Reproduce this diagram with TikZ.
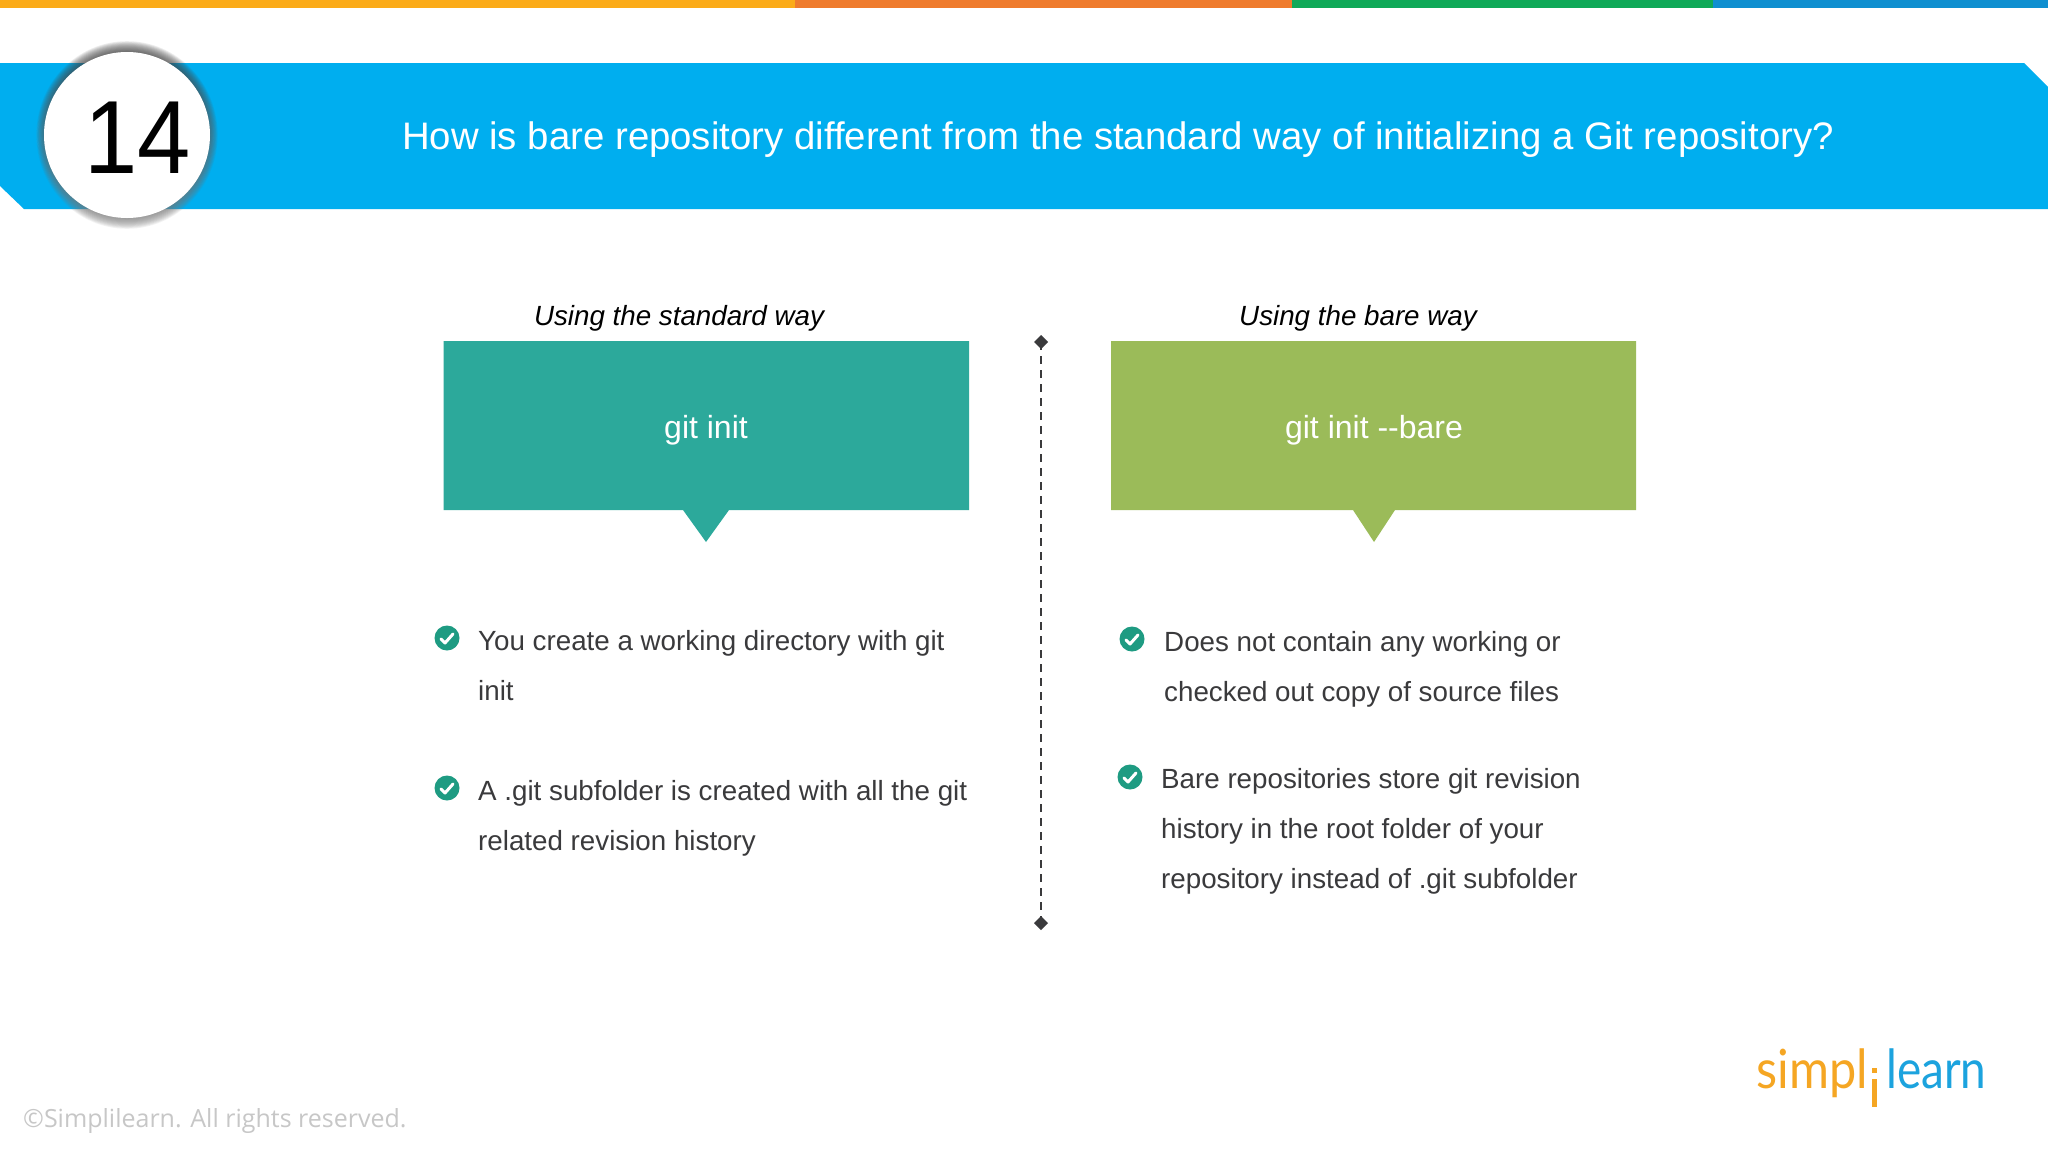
\documentclass[tikz,border=0pt]{standalone}
\usepackage{fontspec}
\setmainfont{Liberation Sans}
\newfontfamily\logofont{Lato}
\newfontfamily\copyfont{Open Sans}
\usetikzlibrary{arrows.meta}
\definecolor{barA}{HTML}{FBAB18}
\definecolor{barB}{HTML}{EF7B2D}
\definecolor{barC}{HTML}{0FA958}
\definecolor{barD}{HTML}{0F8FD0}
\definecolor{banner}{HTML}{00AEEF}
\definecolor{shade}{HTML}{0F6A9C}
\definecolor{tealbox}{HTML}{2CA99B}
\definecolor{greenbox}{HTML}{9BBB59}
\definecolor{bodytext}{HTML}{3A3A3C}
\definecolor{checkc}{HTML}{1E9B82}
\definecolor{logoO}{HTML}{F5A623}
\definecolor{logoB}{HTML}{1CA3DE}
\tikzset{
  x=1pt,y=-1pt,
  bodyline/.style={anchor=base west,inner sep=0pt,text=bodytext,font=\fontsize{27.75}{28}\selectfont},
  caption/.style={anchor=base,inner sep=0pt,font=\fontsize{27.75}{28}\selectfont\itshape,text=black},
  boxlabel/.style={inner sep=0pt,text=white,font=\fontsize{32}{32}\selectfont},
  checkdot/.style={circle,fill=checkc,minimum size=25pt,inner sep=0pt},
  tick/.style={draw=white,line width=3pt,line cap=round,line join=round},
}
\newcommand{\chk}[2]{%
  \node[checkdot] (#1) at #2 {};
  \draw[tick] ([shift={(-6,1)}]#1.center) -- ([shift={(-2,5)}]#1.center) -- ([shift={(6,-4)}]#1.center);
}
\begin{document}
\begin{tikzpicture}
\useasboundingbox (0,0) rectangle (2048,1152);
\fill[white] (0,0) rectangle (2048,1152);
% top bars
\fill[barA] (0,0) rectangle (795,8);
\fill[barB] (795,0) rectangle (1292,8);
\fill[barC] (1292,0) rectangle (1713,8);
\fill[barD] (1713,0) rectangle (2048,8);
% banner
\fill[banner] (0,63) -- (2024,63) -- (2048,87) -- (2048,209) -- (24,209) -- (0,186) -- cycle;
% circle shadow
\foreach \i in {1,...,12}{
  \fill[shade,opacity=.05] (127,135) ellipse [x radius={81+\i*.8},y radius={83+\i*.9}];
}
\node[circle,fill=white,minimum size=166pt,inner sep=0pt] (num) at (127,135) {};
\node[inner sep=0pt,anchor=base,xscale=.92,font=\fontsize{104}{104}\selectfont,text=black] (numtext) at (138,173) {14};
\node[inner sep=0pt,anchor=base,text=white,font=\fontsize{38.35}{38}\selectfont] (title) at (1118,149) {How is bare repository different from the standard way of initializing a Git repository?};
% captions
\node[caption] (capA) at (679,325) {Using the standard way};
\node[caption] (capB) at (1358,325) {Using the bare way};
% boxes
\fill[tealbox] (443.5,341) -- (969,341) -- (969,510) -- (729,510) -- (706,542) -- (683,510) -- (443.5,510) -- cycle;
\node[boxlabel] (boxA) at (706,430) {git init};
\fill[greenbox] (1111,341) -- (1636,341) -- (1636,510) -- (1395,510) -- (1374,542) -- (1353,510) -- (1111,510) -- cycle;
\node[boxlabel] (boxB) at (1374,430) {git init -{}-bare};
% divider
\coordinate (divtop) at (1041,342);
\coordinate (divbot) at (1041,923);
\draw[bodytext,line width=2pt,dash pattern=on 8pt off 6pt] (divtop) -- (divbot);
\fill[bodytext] (1041,335) -- (1048,342) -- (1041,349) -- (1034,342) -- cycle;
\fill[bodytext] (1041,916) -- (1048,923) -- (1041,930) -- (1034,923) -- cycle;
% left bullets
\chk{cA}{(447,638)}
\node[bodyline] (a1) at (478,650) {You create a working directory with git};
\node[bodyline] (a2) at (478,700) {init};
\chk{cB}{(447,788)}
\node[bodyline] (b1) at (478,800) {A .git subfolder is created with all the git};
\node[bodyline] (b2) at (478,850) {related revision history};
% right bullets
\chk{cC}{(1132,639)}
\node[bodyline] (c1) at (1164,651) {Does not contain any working or};
\node[bodyline] (c2) at (1164,701) {checked out copy of source files};
\chk{cD}{(1130,777)}
\node[bodyline] (d1) at (1161,788) {Bare repositories store git revision};
\node[bodyline] (d2) at (1161,838) {history in the root folder of your};
\node[bodyline] (d3) at (1161,888) {repository instead of .git subfolder};
% footer
\node[anchor=base west,inner sep=0pt,text=black!22,font=\copyfont\fontsize{25}{25}\selectfont] (copy) at (23,1127) {©Simplilearn. All rights reserved.};
% logo
\node[anchor=base east,inner sep=0pt,text=logoO,xscale=.9,font=\logofont\fontsize{54}{54}\selectfont] (logoA) at (1868,1088) {simpl};
\node[anchor=base west,inner sep=0pt,text=logoB,xscale=.85,font=\logofont\fontsize{54}{54}\selectfont] (logoB) at (1886,1088) {learn};
\fill[logoO] (1872,1079) rectangle (1877,1107);
\fill[logoO] (1872,1068) rectangle (1877,1073);
\end{tikzpicture}
\end{document}
